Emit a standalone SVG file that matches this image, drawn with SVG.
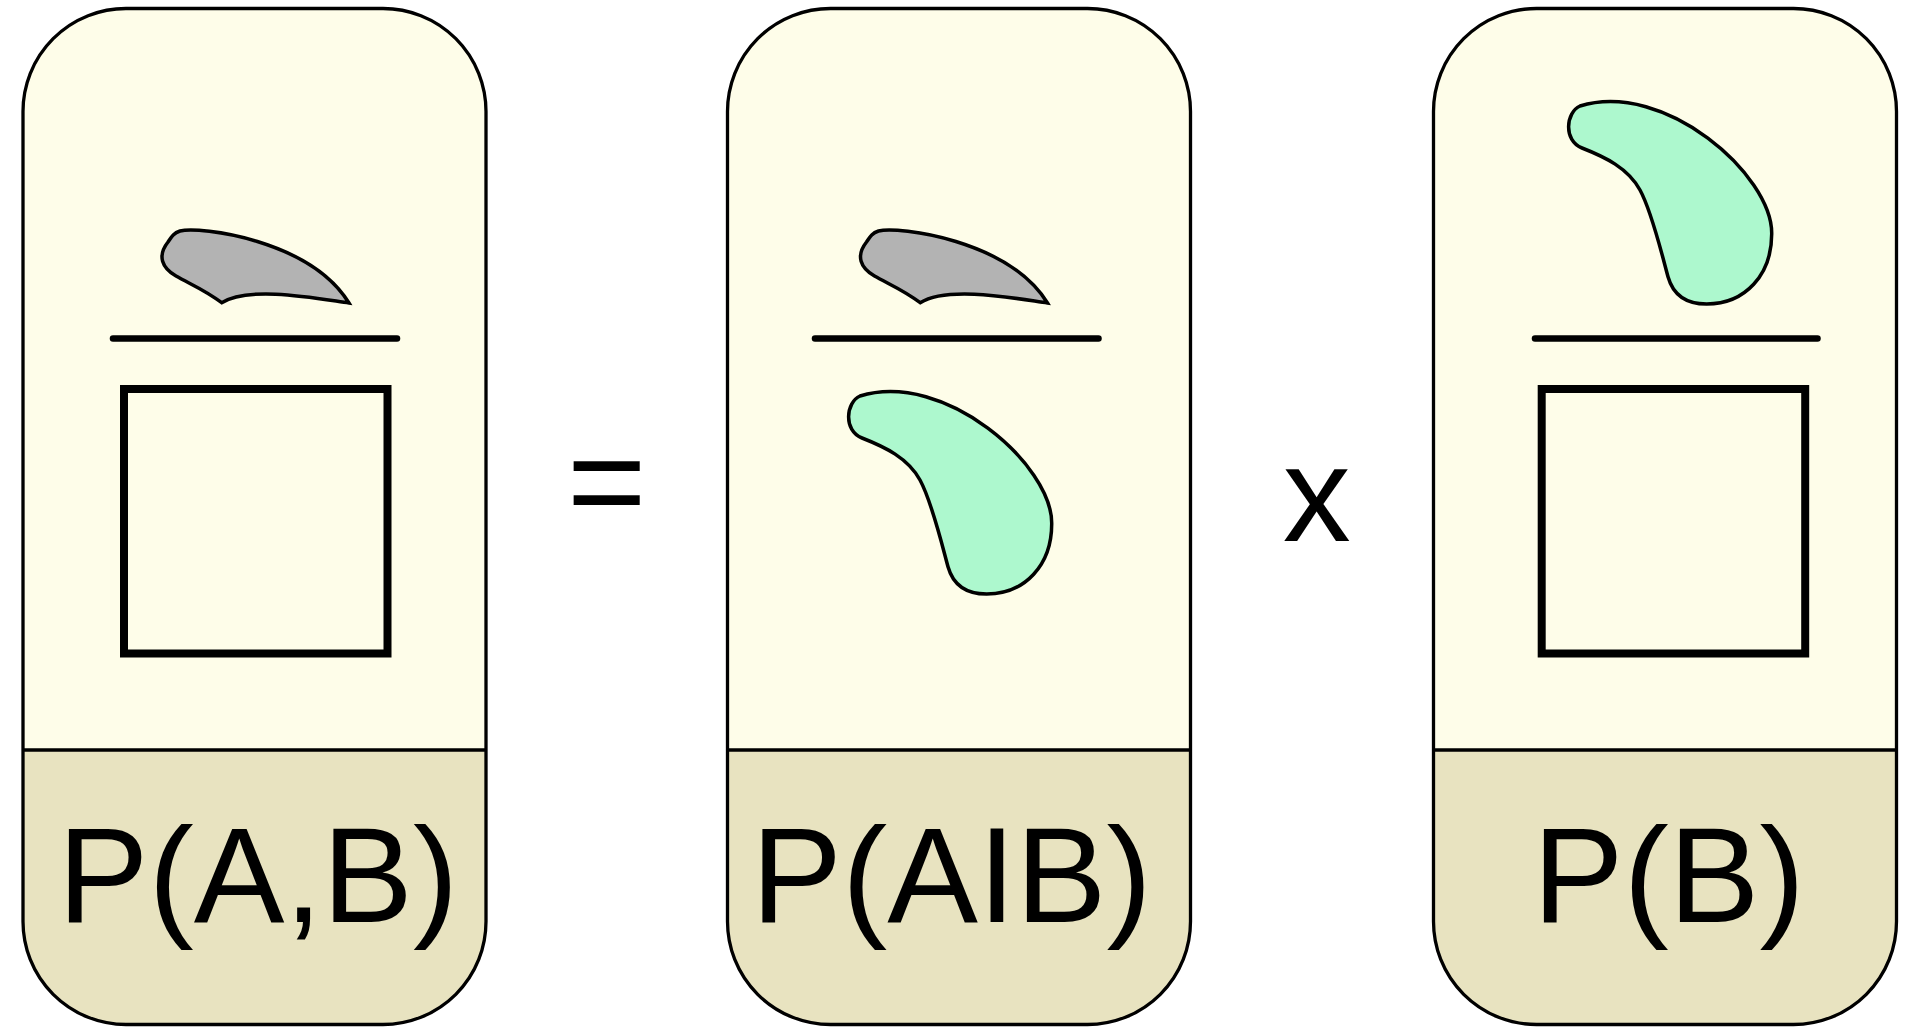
<svg xmlns="http://www.w3.org/2000/svg" xmlns:xlink="http://www.w3.org/1999/xlink" width="1907" height="1027" viewBox="0 0 1907 1027">
<style>
.top{fill:#fefde9;stroke:none}
.bot{fill:#e8e3c0;stroke:none}
.edge{fill:none;stroke:#000;stroke-width:3.3}
.bar{stroke:#000;stroke-width:6.5;stroke-linecap:round}
.sq{fill:none;stroke:#000;stroke-width:8}
.grey{fill:#b3b3b3;stroke:#000;stroke-width:3.5;stroke-linejoin:miter}
.green{fill:#adf8ce;stroke:#000;stroke-width:3.5}
.lbl{font-family:"Liberation Sans",Arial,sans-serif;font-size:136px;fill:#000}
.op{font-family:"Liberation Sans",Arial,sans-serif;font-size:136px;fill:#000;text-anchor:middle}
</style>
<defs>
<path id="cardTop" d="M0,741.5 V103 A103,103 0 0 1 103,0 H360 A103,103 0 0 1 463,103 V741.5 Z"/>
<path id="cardBot" d="M0,741.5 H463 V913 A103,103 0 0 1 360,1016 H103 A103,103 0 0 1 0,913 Z"/>
<path id="cardEdge" d="M0,103 A103,103 0 0 1 103,0 H360 A103,103 0 0 1 463,103 V913 A103,103 0 0 1 360,1016 H103 A103,103 0 0 1 0,913 Z M0,741.5 H463"/>
<path id="greyShape" d="M221.7,302.7 C205,290 190,284 176,276 C162,268 157,256 168,242 C172,236 174,233 180,231 C200,226 310,240 349,303 C320,299 250,285 221.7,302.7 Z"/>
<path id="greenShape" d="M1580,106 C1665,80 1772,175 1771.7,233.3 C1772,275 1745,304 1706.7,304 C1690,304 1674,298 1668,276.7 C1663,258.7 1652,212 1640,190 C1628,168 1605,157 1582,148 C1563,140.6 1566,112 1580,106 Z"/>
</defs>
<g id="card-joint">
<g transform="translate(23,8.5)">
<use xlink:href="#cardTop" class="top"/>
<use xlink:href="#cardBot" class="bot"/>
<use xlink:href="#cardEdge" class="edge"/>
</g>
<use xlink:href="#greyShape" class="grey"/>
<line class="bar" x1="113" y1="338.5" x2="397" y2="338.5"/>
<rect class="sq" x="124" y="389" width="263.5" height="264.5"/>
<text class="lbl" x="57.8" y="921.5">P(A,B)</text>
</g>
<g id="card-conditional">
<g transform="translate(727.5,8.5)">
<use xlink:href="#cardTop" class="top"/>
<use xlink:href="#cardBot" class="bot"/>
<use xlink:href="#cardEdge" class="edge"/>
</g>
<use xlink:href="#greyShape" class="grey" transform="translate(698.5,0)"/>
<line class="bar" x1="815" y1="338.5" x2="1098.5" y2="338.5"/>
<use xlink:href="#greenShape" class="green" transform="translate(-720,290)"/>
<text class="lbl" x="751.2" y="921.5">P(AIB)</text>
</g>
<g id="card-marginal">
<g transform="translate(1433.5,8.5)">
<use xlink:href="#cardTop" class="top"/>
<use xlink:href="#cardBot" class="bot"/>
<use xlink:href="#cardEdge" class="edge"/>
</g>
<use xlink:href="#greenShape" class="green"/>
<line class="bar" x1="1535" y1="338.5" x2="1817.5" y2="338.5"/>
<rect class="sq" x="1541.7" y="389" width="263.5" height="264.5"/>
<text class="lbl" x="1532.8" y="921.5">P(B)</text>
</g>
<g id="operators">
<text class="op" x="606.8" y="527.5">=</text>
<text class="op" x="1316.7" y="541">x</text>
</g>
<g id="connectors"/>
</svg>
